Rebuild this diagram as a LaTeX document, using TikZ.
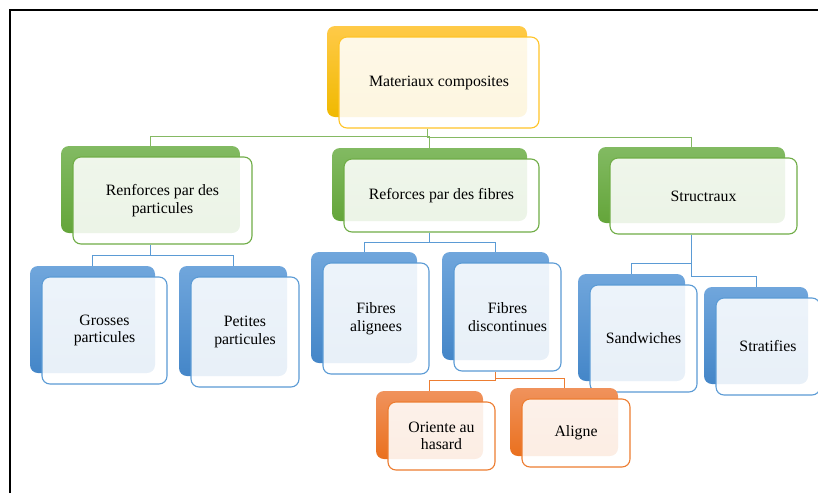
\documentclass[tikz,border=0pt]{standalone}
\usepackage{fontspec}
\setmainfont{Liberation Serif}
\usetikzlibrary{backgrounds}

\definecolor{goldTop}{RGB}{255,202,72}
\definecolor{goldBot}{RGB}{240,185,0}
\definecolor{goldLine}{RGB}{255,196,40}
\definecolor{greenTop}{RGB}{130,186,98}
\definecolor{greenBot}{RGB}{100,165,58}
\definecolor{greenLine}{RGB}{112,173,71}
\definecolor{blueTop}{RGB}{112,166,220}
\definecolor{blueBot}{RGB}{68,134,200}
\definecolor{blueLine}{RGB}{91,155,213}
\definecolor{orangeTop}{RGB}{240,146,92}
\definecolor{orangeBot}{RGB}{234,112,30}
\definecolor{orangeLine}{RGB}{237,125,49}

\begin{document}
\begin{tikzpicture}[
      x=1pt, y=-1pt,
      every node/.style={font=\fontsize{15.8}{17.5}\selectfont},
      card/.style={rectangle, rounded corners=8pt, fill=white, fill opacity=0.88, text opacity=1, line width=1.1pt, align=center, inner sep=2pt},
      back/.style 2 args={preaction={draw=none, fill opacity=1, top color=#1, bottom color=#2, transform canvas={xshift=-12pt, yshift=11pt}}},
      goldbox/.style={card, draw=goldLine, back={goldTop}{goldBot}},
      greenbox/.style={card, draw=greenLine, back={greenTop}{greenBot}},
      bluebox/.style={card, draw=blueLine, back={blueTop}{blueBot}},
      orangebox/.style={card, draw=orangeLine, back={orangeTop}{orangeBot}},
      glink/.style={draw=greenLine!85, line width=1pt},
      blink/.style={draw=blueLine, line width=1pt},
      olink/.style={draw=orangeLine, line width=1pt}
    ]
    \useasboundingbox (0,0) rectangle (818,493);

    % Frame
    \draw[line width=2pt] (10,493) -- (10,10) -- (818,10);

    % Top
    \node[goldbox, minimum width=200pt, minimum height=91pt] (root) at (439,82.5) {Materiaux composites};

    % Level 1
    \node[greenbox, minimum width=179pt, minimum height=87pt] (renf) at (162.5,200.5) {Renforces par des\\particules};
    \node[greenbox, minimum width=195pt, minimum height=73pt] (fibres) at (441.5,195.5) {Reforces par des fibres};
    \node[greenbox, minimum width=187pt, minimum height=76pt] (struct) at (703.5,196) {Structraux};

    % Level 2
    \node[bluebox, minimum width=125pt, minimum height=107pt] (grosses) at (104.5,330.5) {Grosses\\particules};
    \node[bluebox, minimum width=108pt, minimum height=110pt] (petites) at (245,332) {Petites\\particules};
    \node[bluebox, minimum width=106pt, minimum height=111pt] (fibal) at (376,318.5) {Fibres\\alignees};
    \node[bluebox, minimum width=107pt, minimum height=108pt] (fibdis) at (507.5,317) {Fibres\\discontinues};
    \node[bluebox, minimum width=107pt, minimum height=107pt] (sandw) at (643.5,338.5) {Sandwiches};
    \node[bluebox, minimum width=104pt, minimum height=97pt] (strat) at (768,346.5) {Stratifies};

    % Level 3
    \node[orangebox, minimum width=107pt, minimum height=68pt] (hasard) at (441.5,436) {Oriente au\\hasard};
    \node[orangebox, minimum width=108pt, minimum height=68pt] (aligne) at (576,433) {Aligne};

    % Links
    \begin{scope}[on background layer]
        \draw[glink] ([xshift=-12pt]root.south) -- ++(0,8) -| ([xshift=-12pt]renf.north);
        \draw[glink] ([xshift=-12pt]root.south) -- ++(0,8) -| ([xshift=-12pt]fibres.north);
        \draw[glink] ([xshift=-12pt]root.south) -- ++(0,9) -| ([xshift=-12pt]struct.north);

        \draw[blink] ([xshift=-12pt]renf.south) -- ++(0,11) -| ([xshift=-12pt]grosses.north);
        \draw[blink] ([xshift=-12pt]renf.south) -- ++(0,11) -| ([xshift=-12pt]petites.north);
        \draw[blink] ([xshift=-12pt]fibres.south) -- ++(0,10) -| ([xshift=-12pt]fibal.north);
        \draw[blink] ([xshift=-12pt]fibres.south) -- ++(0,10) -| ([xshift=-12pt]fibdis.north);
        \draw[blink] ([xshift=-12pt]struct.south) -- ++(0,29) -| ([xshift=-12pt]sandw.north);
        \draw[blink] ([xshift=-12pt]struct.south) -- ++(0,42) -| ([xshift=-12pt]strat.north);

        \draw[olink] ([xshift=-12pt]fibdis.south) -- ++(0,9) -| ([xshift=-12pt]hasard.north);
        \draw[olink] ([xshift=-12pt]fibdis.south) -- ++(0,7) -| ([xshift=-12pt]aligne.north);
    \end{scope}

\end{tikzpicture}
\end{document}
